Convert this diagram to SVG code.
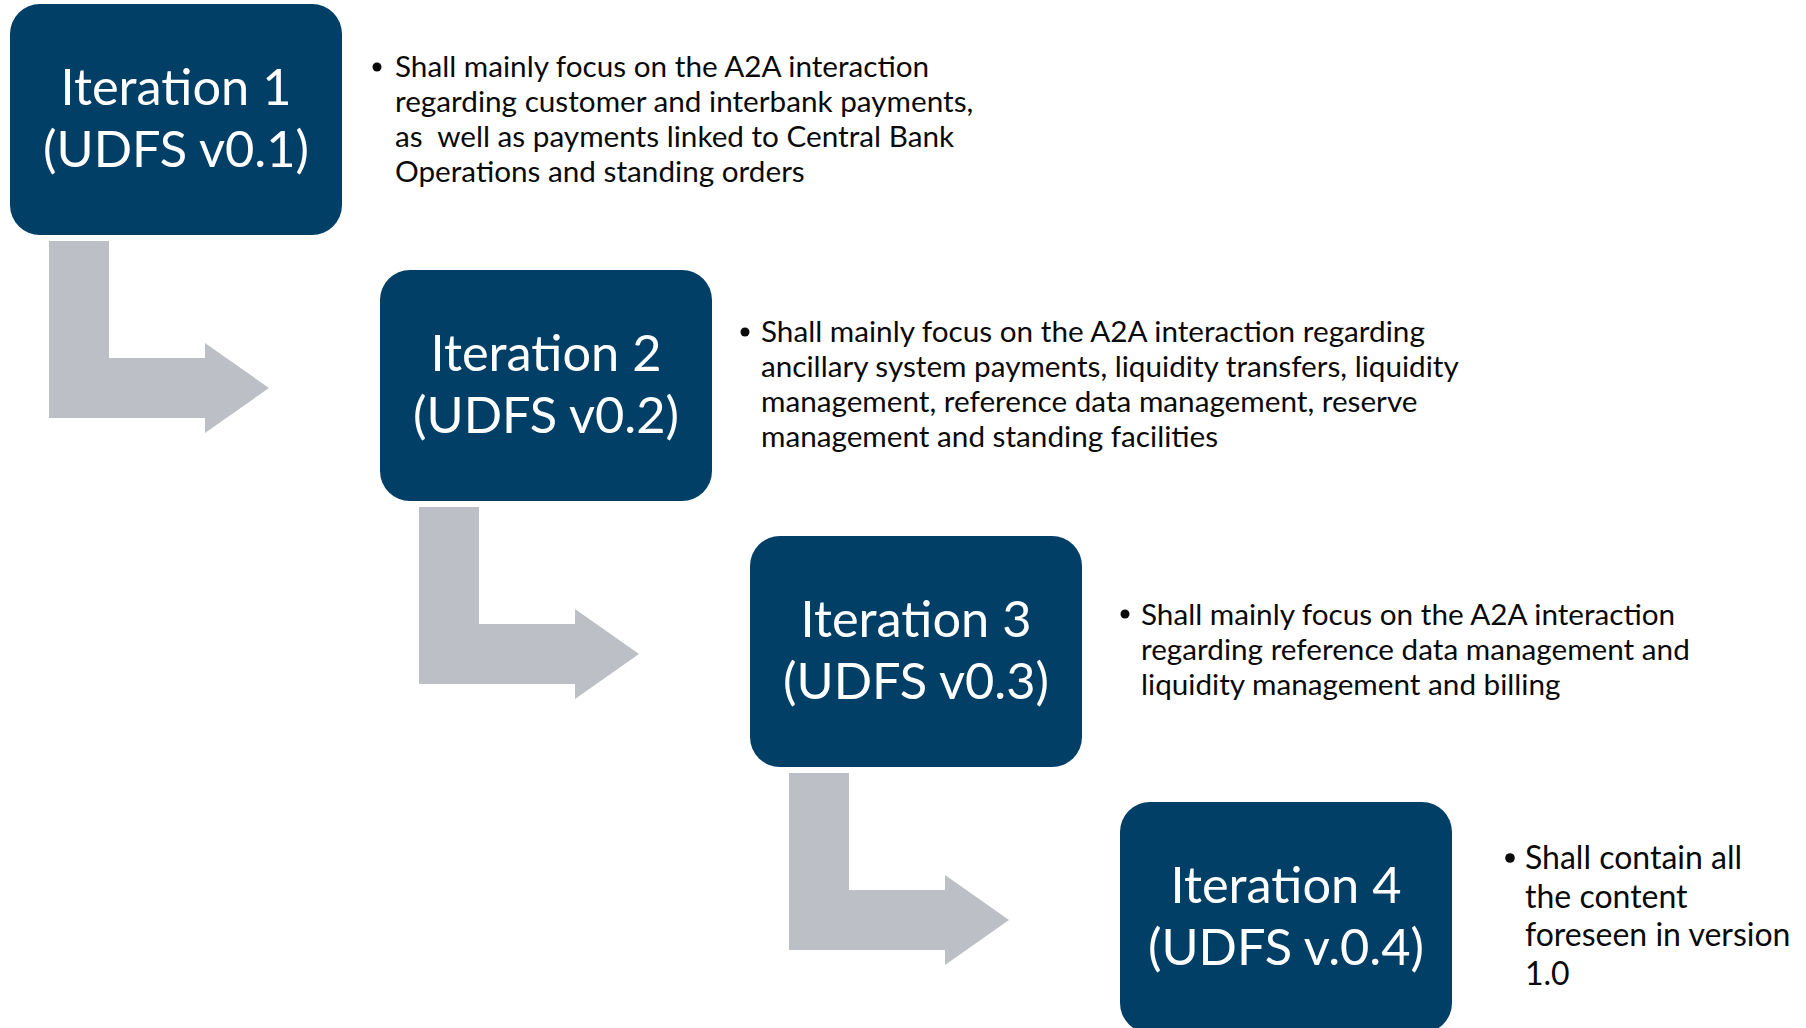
<svg xmlns="http://www.w3.org/2000/svg" width="1806" height="1028" viewBox="0 0 1806 1028">
<defs>
<style>
.box{fill:#023F67}
.arrow{fill:#BCC0C6}
.title{font-family:Lato,"Liberation Sans",sans-serif;font-size:50.5px;fill:#FFFFFF;text-anchor:middle}
.body{font-family:Lato,"Liberation Sans",sans-serif;font-size:29.7px;fill:#0A0A0A;white-space:pre}
.body4{font-family:Lato,"Liberation Sans",sans-serif;font-size:32px;fill:#0A0A0A}
.dot{fill:#0A0A0A}
</style>
<path id="larrow" d="M0,0 H60 V117 H156 V102 L220,147 L156,192 V177 H0 Z"/>
</defs>
<rect width="1806" height="1028" fill="#FFFFFF"/>
<g id="connectors">
<use href="#larrow" class="arrow" x="49" y="241"/>
<use href="#larrow" class="arrow" x="419" y="507"/>
<use href="#larrow" class="arrow" x="789" y="773"/>
</g>
<g id="iteration1">
<rect class="box" x="10" y="4" width="332" height="231" rx="30"/>
<text class="title" x="176" y="105">Iteration 1</text>
<text class="title" x="176" y="167">(UDFS v0.1)</text>
</g>
<g id="desc1">
<circle class="dot" cx="377" cy="67" r="4.5"/>
<text class="body" x="395" y="77">Shall mainly focus on the A2A interaction</text>
<text class="body" x="395" y="112">regarding customer and interbank payments,</text>
<text class="body" x="395" y="147" xml:space="preserve">as  well as payments linked to Central Bank</text>
<text class="body" x="395" y="182">Operations and standing orders</text>
</g>
<g id="iteration2">
<rect class="box" x="380" y="270" width="332" height="231" rx="30"/>
<text class="title" x="546" y="371">Iteration 2</text>
<text class="title" x="546" y="433">(UDFS v0.2)</text>
</g>
<g id="desc2">
<circle class="dot" cx="745" cy="332" r="4.5"/>
<text class="body" x="761" y="342">Shall mainly focus on the A2A interaction regarding</text>
<text class="body" x="761" y="377">ancillary system payments, liquidity transfers, liquidity</text>
<text class="body" x="761" y="412">management, reference data management, reserve</text>
<text class="body" x="761" y="447">management and standing facilities</text>
</g>
<g id="iteration3">
<rect class="box" x="750" y="536" width="332" height="231" rx="30"/>
<text class="title" x="916" y="637">Iteration 3</text>
<text class="title" x="916" y="699">(UDFS v0.3)</text>
</g>
<g id="desc3">
<circle class="dot" cx="1125" cy="614" r="4.5"/>
<text class="body" x="1141" y="624.5">Shall mainly focus on the A2A interaction</text>
<text class="body" x="1141" y="659.5">regarding reference data management and</text>
<text class="body" x="1141" y="694.5">liquidity management and billing</text>
</g>
<g id="iteration4">
<rect class="box" x="1120" y="802" width="332" height="231" rx="30"/>
<text class="title" x="1286" y="903">Iteration 4</text>
<text class="title" x="1286" y="965">(UDFS v.0.4)</text>
</g>
<g id="desc4">
<circle class="dot" cx="1510" cy="858" r="4.8"/>
<text class="body4" x="1525" y="869">Shall contain all</text>
<text class="body4" x="1525" y="907.5">the content</text>
<text class="body4" x="1525" y="946">foreseen in version</text>
<text class="body4" x="1525" y="984.5">1.0</text>
</g>
</svg>
